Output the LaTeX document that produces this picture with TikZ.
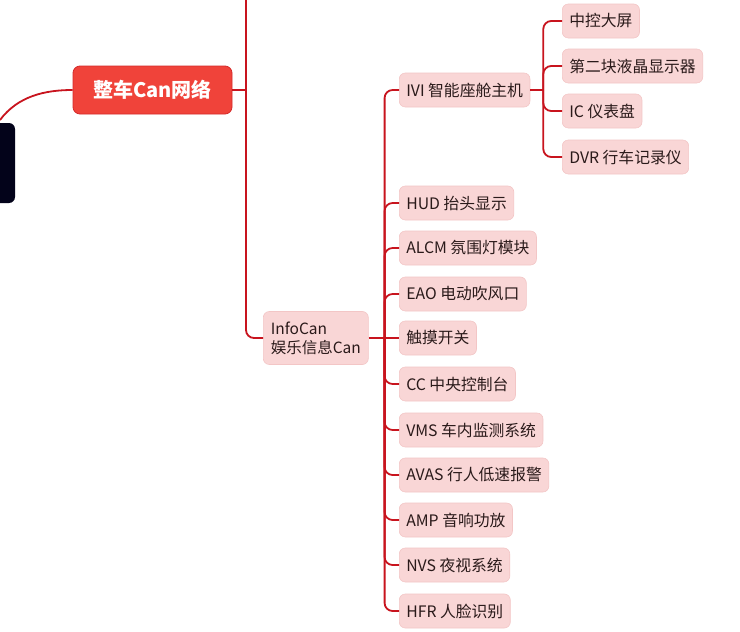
\documentclass[tikz,border=0pt]{standalone}
\usepackage{fontspec}
\setmainfont{Noto Sans CJK SC}
\usetikzlibrary{calc}
\definecolor{linered}{HTML}{C8141E}
\definecolor{mainred}{HTML}{F0433A}
\definecolor{mainedge}{HTML}{D42A2A}
\definecolor{pinkfill}{HTML}{F9D6D6}
\definecolor{pinkedge}{HTML}{F3C6C6}
\definecolor{rootdark}{HTML}{03031A}
\definecolor{txt}{HTML}{2A1A1A}
\tikzset{
  leaf/.style={anchor=west, rounded corners=6pt, fill=pinkfill, draw=pinkedge, line width=0.6pt,
    minimum height=34pt, inner xsep=7pt, text=txt, font=\fontsize{15.8}{18}\selectfont},
  conn/.style={draw=linered, line width=1.8pt, rounded corners=8pt},
}
\begin{document}
\begin{tikzpicture}[x=1pt,y=-1pt]
\useasboundingbox (0,0) rectangle (740,632);
\fill[white] (0,0) rectangle (740,632);
% partial root
\node[draw=none, fill=rootdark, rounded corners=6pt, minimum width=60pt, minimum height=80pt] (root) at (-15,163) {};
\coordinate (c0) at (0,120);
% main node
\node[fill=mainred, draw=mainedge, line width=0.8pt, rounded corners=7pt, minimum width=159pt, minimum height=48pt,
  text=white, font=\fontsize{20}{24}\selectfont\bfseries] (main) at (152.5,90) {整车Can网络};
\draw[linered, line width=1.8pt] (c0) .. controls (18,96) and (45,90) .. (main.west);
% trunk
\coordinate (ttop) at (246,-2);
\coordinate (tmid) at (246,90);
\node[anchor=west, rounded corners=6pt, fill=pinkfill, draw=pinkedge, line width=0.6pt, minimum width=105pt,
  minimum height=53pt, align=left, text=txt, font=\fontsize{15.5}{19}\selectfont, inner xsep=6pt] (info) at (263,338) {InfoCan\\娱乐信息Can};
\draw[linered, line width=1.8pt] (main.east) -- (tmid);
\draw[conn] (ttop) |- (info.west);
% children of InfoCan
\node[leaf] (ivi) at (399,90) {IVI 智能座舱主机};
\node[leaf] (hud) at (399,203) {HUD 抬头显示};
\node[leaf] (alcm) at (399,248) {ALCM 氛围灯模块};
\node[leaf] (eao) at (399,294) {EAO 电动吹风口};
\node[leaf] (touch) at (399,338) {触摸开关};
\node[leaf] (cc) at (399,384) {CC 中央控制台};
\node[leaf] (vms) at (399,430) {VMS 车内监测系统};
\node[leaf] (avas) at (399,475) {AVAS 行人低速报警};
\node[leaf] (amp) at (399,520) {AMP 音响功放};
\node[leaf] (nvs) at (399,565) {NVS 夜视系统};
\node[leaf] (hfr) at (399,611) {HFR 人脸识别};
\coordinate (j1) at ($(info.east)+(16,0)$);
\draw[linered, line width=1.8pt] (info.east) -- (touch.west);
\foreach \c in {ivi,hud,alcm,eao,cc,vms,avas,amp,nvs,hfr}{
  \draw[conn] (j1) |- (\c.west);
}
% children of IVI
\node[leaf] (zk) at (562,21) {中控大屏};
\node[leaf] (lcd) at (562,66) {第二块液晶显示器};
\node[leaf] (ic) at (562,111) {IC 仪表盘};
\node[leaf] (dvr) at (562,157) {DVR 行车记录仪};
\coordinate (j2) at ($(ivi.east)+(13,0)$);
\draw[linered, line width=1.8pt] (ivi.east) -- (j2);
\foreach \c in {zk,lcd,ic,dvr}{
  \draw[conn] (j2) |- (\c.west);
}
\end{tikzpicture}
\end{document}
